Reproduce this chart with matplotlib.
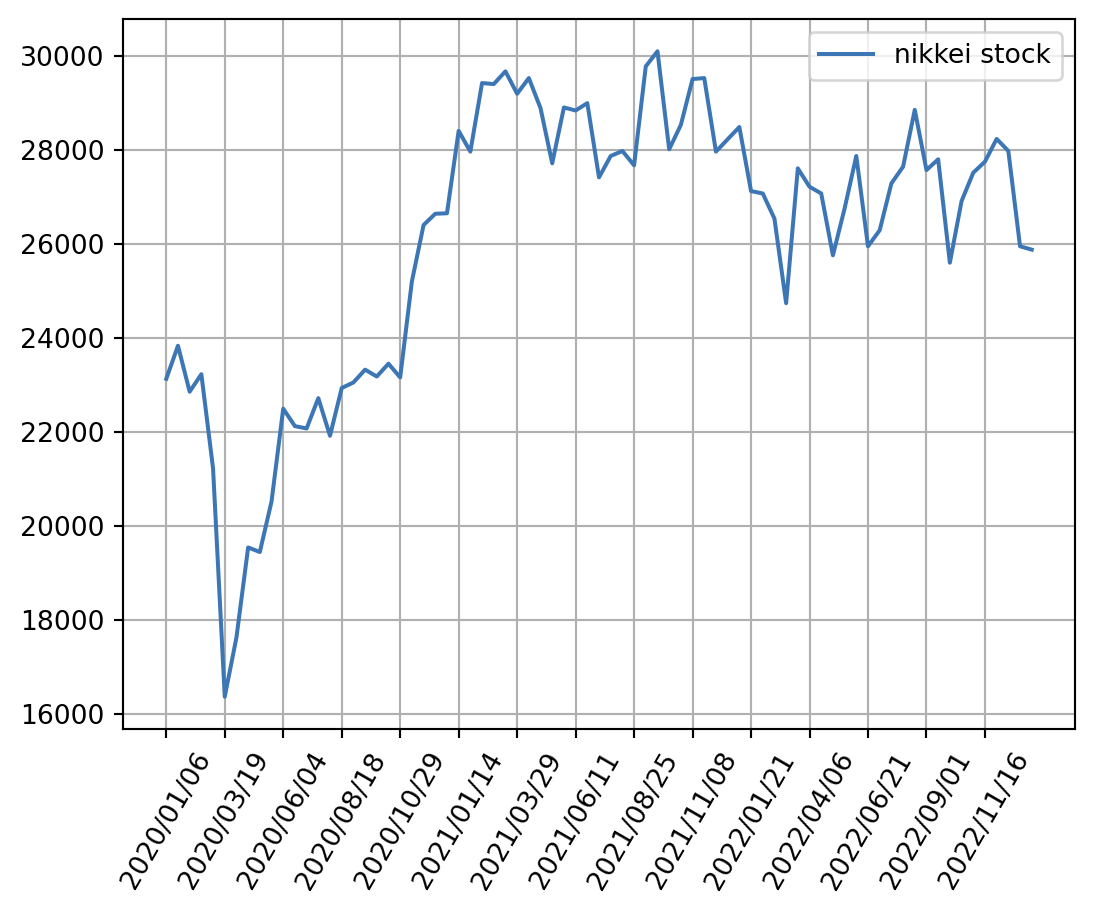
import matplotlib
matplotlib.use("Agg")
import matplotlib.pyplot as plt

# Nikkei closing values, one point per sample (75 samples, 2020-01 .. 2022-12)
nikkei = [
    23138, 23842, 22864, 23236, 21232, 16374, 17635, 19550, 19453, 20528,
    22503, 22131, 22082, 22727, 21926, 22942, 23060, 23333, 23187, 23460,
    23167, 25210, 26410, 26650, 26660, 28413, 27972, 29431, 29409, 29680,
    29203, 29537, 28897, 27723, 28911, 28847, 29004, 27424, 27879, 27986,
    27680, 29786, 30107, 28021, 28541, 29516, 29537, 27972, 28235, 28495,
    27132, 27082, 26548, 24748, 27616, 27224, 27082, 25765, 26762, 27879,
    25958, 26299, 27296, 27651, 28861, 27580, 27808, 25609, 26918, 27523,
    27758, 28242, 27986, 25958, 25886,
]

# Dates shown on the x axis (every 5th sample)
tick_labels = [
    "2020/01/06", "2020/03/19", "2020/06/04", "2020/08/18", "2020/10/29",
    "2021/01/14", "2021/03/29", "2021/06/11", "2021/08/25", "2021/11/08",
    "2022/01/21", "2022/04/06", "2022/06/21", "2022/09/01", "2022/11/16",
]
tick_step = 5

if __name__ == "__main__":
    fig = plt.figure(figsize=(1095 / 192, 913 / 192), dpi=192)
    ax = fig.add_axes([123 / 1095, 1 - 729 / 913, 952 / 1095, 710 / 913])

    x = list(range(len(nikkei)))
    ax.plot(x, nikkei, color="#3d76b5", linewidth=1.5, label="nikkei stock")

    ax.set_xticks(list(range(0, len(tick_labels) * tick_step, tick_step)))
    ax.set_xticklabels(tick_labels, rotation=60)
    ax.set_yticks(range(16000, 30001, 2000))

    ax.grid(True)
    ax.legend(loc="upper right")

    plt.savefig("out.png", dpi=192)
